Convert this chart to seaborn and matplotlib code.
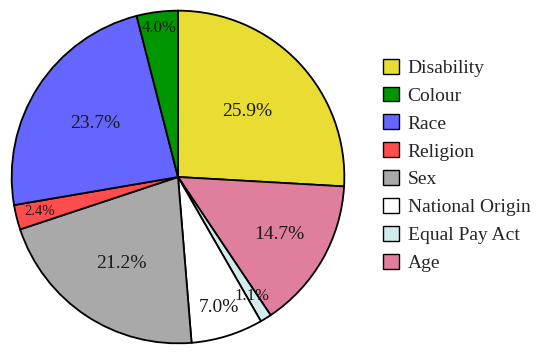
"""Pie chart of discrimination complaint categories."""

import matplotlib.pyplot as plt
import seaborn as sns
from matplotlib.patches import Patch
import numpy as np

# data, in the clockwise order the wedges are drawn (starting at 12 o'clock)
categories = ["Disability", "Age", "Equal Pay Act", "National Origin",
              "Sex", "Religion", "Race", "Colour"]
shares = [25.9, 14.7, 1.1, 7.0, 21.2, 2.4, 23.7, 4.0]
legend_order = ["Disability", "Colour", "Race", "Religion", "Sex",
                "National Origin", "Equal Pay Act", "Age"]

colors = {
    "Disability": "#E9DC32",
    "Colour": "#009600",
    "Race": "#6565FF",
    "Religion": "#FF4D4D",
    "Sex": "#A9A9A9",
    "National Origin": "#FFFFFF",
    "Equal Pay Act": "#D2ECEC",
    "Age": "#DF7F9D",
}
# radial position of each percentage label (fraction of radius) and font size
label_radius = [0.57, 0.70, 0.84, 0.82, 0.62, 0.86, 0.59, 0.90]
label_size = [14, 14, 12, 14, 14, 10.5, 14, 12]

sns.set_theme(style="white")
plt.rcParams["font.family"] = ["Liberation Serif", "DejaVu Serif"]

fig = plt.figure(figsize=(5.5, 3.52), dpi=100)
ax = fig.add_axes([10 / 550, 7 / 352, 336 / 550, 336 / 352])

wedges, _ = ax.pie(
    shares,
    colors=[colors[c] for c in categories],
    startangle=90,
    counterclock=False,
    wedgeprops=dict(edgecolor="black", linewidth=1.3),
    radius=1.0,
)
ax.set_aspect("equal")
ax.set_xlim(-1.01, 1.01)
ax.set_ylim(-1.01, 1.01)
ax.axis("off")

for w, val, r, fs in zip(wedges, shares, label_radius, label_size):
    mid = np.deg2rad((w.theta1 + w.theta2) / 2)
    ax.text(r * np.cos(mid), r * np.sin(mid), f"{val:.1f}%",
            ha="center", va="center", fontsize=fs, color="#1a1a1a")

handles = [Patch(facecolor=colors[c], edgecolor="black", linewidth=1.0, label=c)
           for c in legend_order]
fig.legend(handles=handles, loc="center left", bbox_to_anchor=(0.683, 0.53),
           frameon=False, fontsize=14, handlelength=0.8, handleheight=0.8,
           handletextpad=0.45, labelspacing=0.5, borderaxespad=0)

fig.savefig("out.png", dpi=100)
